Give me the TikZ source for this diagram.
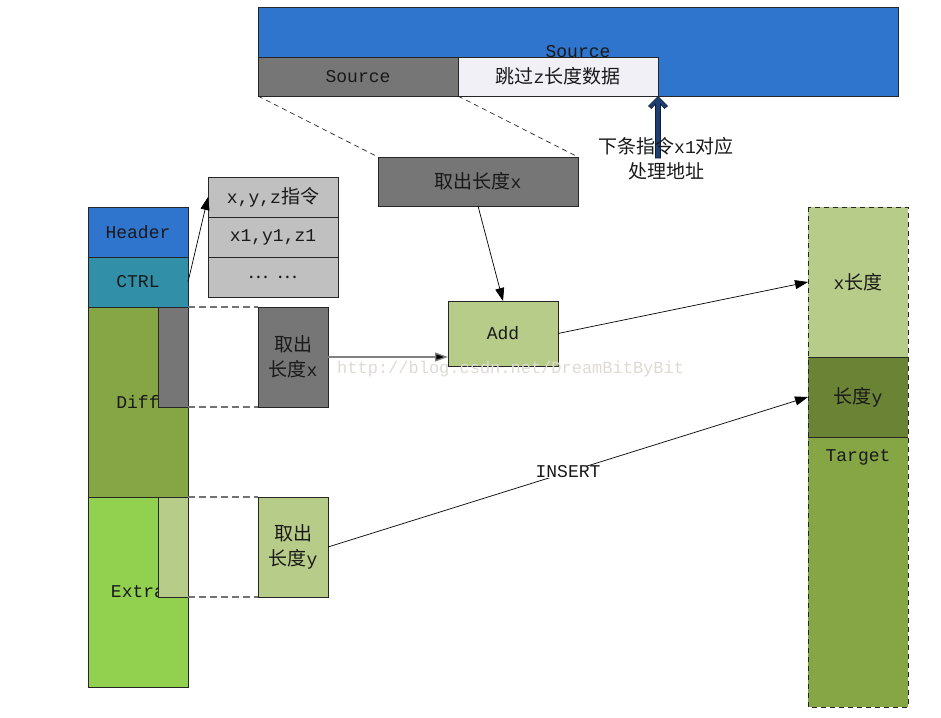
\documentclass[tikz,border=0pt]{standalone}
\usepackage{fontspec}
\setmainfont{Liberation Mono}
\newfontfamily\cjk{Noto Sans CJK SC}
\newcommand\zh[1]{{\cjk\fontsize{19}{25}\selectfont #1}}
\usetikzlibrary{arrows.meta}
\definecolor{cblue}{RGB}{47,117,205}
\definecolor{cgray}{RGB}{118,118,118}
\definecolor{clav}{RGB}{242,240,247}
\definecolor{cnavy}{RGB}{28,62,112}
\definecolor{cnavyd}{RGB}{15,30,55}
\definecolor{ctbl}{RGB}{192,192,192}
\definecolor{cteal}{RGB}{49,144,168}
\definecolor{colive}{RGB}{134,166,69}
\definecolor{clime}{RGB}{146,208,80}
\definecolor{cpale}{RGB}{184,204,137}
\definecolor{cdark}{RGB}{106,131,53}
\definecolor{cwm}{RGB}{222,218,212}
\begin{document}
\begin{tikzpicture}[x=1pt,y=-1pt,
  box/.style={draw=black!85, line width=0.8pt, inner sep=0pt, outer sep=0pt,
    anchor=north west, align=center, text=black!90, font=\fontsize{18}{25}\selectfont},
  fillonly/.style={draw=none, inner sep=0pt, outer sep=0pt, anchor=north west},
  sz/.style 2 args={minimum width=#1pt, minimum height=#2pt},
  txt/.style={inner sep=0pt, align=center, text=black!90, font=\fontsize{18}{25}\selectfont},
  arr/.style={-{Triangle[length=13pt,width=9pt]}, line width=0.7pt, draw=black},
  gdash/.style={draw=black!55, dash pattern=on 7pt off 4pt, line width=1.3pt},
  kdash/.style={draw=black!85, dash pattern=on 5pt off 4pt, line width=0.7pt}]
\useasboundingbox (0,0) rectangle (941,717);

% top source area
\node[box, fill=cblue, sz={640}{89}] (srcbig) at (258,7) {Source};
\node[box, fill=cgray, sz={200}{39}] (srcgray) at (258,57) {Source};
\node[box, fill=clav, sz={200}{39}] (skip) at (458,57) {\zh{跳过}z\zh{长度数据}};
\node[box, fill=cgray, sz={200}{49}] (takex) at (378,157) {\zh{取出长度}x};
\draw[kdash] (srcgray.south west) -- (takex.north west);
\draw[kdash] (srcgray.south east) -- (takex.north east);

% next instruction arrow
\coordinate (nt) at (skip.south east);
\filldraw[shift={(nt)}, fill=cnavy, draw=cnavyd, line width=0.6pt]
  (0,0.5) -- (9.5,10) -- (6.5,12.5) -- (2.5,8) -- (2.5,62) -- (-2.5,62)
  -- (-2.5,8) -- (-6.5,12.5) -- (-9.5,10) -- cycle;
\node[txt] (nlab) at (666,159) {\zh{下条指令}x1\zh{对应}\\\zh{处理地址}};

% left column
\node[box, fill=cblue, sz={100}{50}] (header) at (88,207) {Header};
\node[box, fill=cteal, sz={100}{50}] (ctrl) at (88,257) {CTRL};
\node[box, fill=colive, sz={100}{190}] (diff) at (88,307) {Diff};
\node[box, fill=clime, sz={100}{190}] (extra) at (88,497) {Extra};
\node[box, fill=cgray, sz={30}{100}] (gstrip) at (158,307) {};
\node[box, fill=cpale, sz={30}{100}] (ystrip) at (158,497) {};

% instruction table
\node[box, fill=ctbl, sz={130}{40}] (t1) at (208,177) {x,y,z\zh{指令}};
\node[box, fill=ctbl, sz={130}{40}] (t2) at (208,217) {x1,y1,z1};
\node[box, fill=ctbl, sz={130}{40}] (t3) at (208,257) {\zh{…}\hspace{8pt}\zh{…}};
\draw[arr] (ctrl.east) -- (t1.west);

% extracted blocks
\node[box, fill=cgray, sz={70}{100}] (sx) at (258,307) {\zh{取出}\\\zh{长度}x};
\node[box, fill=cpale, sz={70}{100}] (sy) at (258,497) {\zh{取出}\\\zh{长度}y};
\draw[gdash] (gstrip.north east) -- (sx.north west);
\draw[gdash] (gstrip.south east) -- (sx.south west);
\draw[gdash] (ystrip.north east) -- (sy.north west);
\draw[gdash] (ystrip.south east) -- (sy.south west);

% add
\node[box, fill=cpale, sz={110}{65}] (add) at (448,301) {Add};
\draw[arr] (takex.south) -- (add.north);
\draw[arr, draw=black!50, line width=1.3pt, -{Triangle[length=13pt,width=9pt,fill=black]}]
  (sx.east) -- (sx.east -| add.west);

% target column
\node[fillonly, fill=cpale, sz={100}{150}] (tx) at (808,207) {};
\node[fillonly, fill=cdark, sz={100}{80}] (ty) at (808,357) {};
\node[fillonly, fill=colive, sz={100}{270}] (tt) at (808,437) {};
\draw[kdash] (tx.north west) rectangle (tt.south east);
\draw[black!85, line width=0.9pt] (ty.north west) -- (ty.north east);
\draw[black!85, line width=0.9pt] (ty.south west) -- (ty.south east);
\node[txt] (txl) at (tx.center) {x\zh{长度}};
\node[txt] (tyl) at (ty.center) {\zh{长度}y};
\node[txt] (ttl) at ([yshift=-20pt]tt.north) {Target};

\draw[arr] (add.east) -- (tx.west);
\draw[arr] (sy.east) -- node[pos=0.5, fill=white, inner sep=1.5pt, txt] (ins) {INSERT} (ty.west);

% watermark
\node[inner sep=0pt, anchor=west, text=cwm, font=\fontsize{17}{20}\selectfont] (wm) at (337,369) {http://blog.csdn.net/DreamBitByBit};
\end{tikzpicture}
\end{document}
